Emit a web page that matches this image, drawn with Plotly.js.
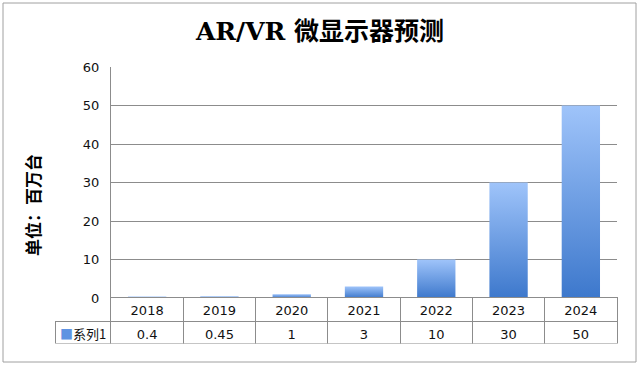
<!DOCTYPE html>
<html>
<head>
<meta charset="utf-8">
<script src="https://cdn.plot.ly/plotly-3.0.1.min.js"></script>
<style>
  html, body { margin: 0; padding: 0; background: #fff; }
  #chart { width: 640px; height: 365px; }
</style>
</head>
<body>
<div id="chart"></div>
<script>
// ---- data ----
const years = ['2018', '2019', '2020', '2021', '2022', '2023', '2024'];
const values = [0.4, 0.45, 1, 3, 10, 30, 50];
const valueLabels = ['0.4', '0.45', '1', '3', '10', '30', '50'];
const seriesName = '系列1';
const chartTitle = 'AR/VR 微显示器预测';
const yTitle = '单位：百万台';
const yTicks = [0, 10, 20, 30, 40, 50, 60];

const numFont = 'DejaVu Sans, Verdana, sans-serif';
const cjkBold = 'DejaVu Serif, Noto Sans CJK SC, serif';
const gridCol = '#8c8c8c';
const tableLine = '#8c8c8c';

const barTrace = {
  type: 'bar',
  x: years,
  y: values,
  name: seriesName,
  marker: { color: '#6d9fe6', line: { width: 0 } },
  hoverinfo: 'skip',
  showlegend: false
};

const headerLineColors = ['rgba(0,0,0,0)'].concat(years.map(() => tableLine));
const headerFillColors = ['rgba(0,0,0,0)'].concat(years.map(() => '#ffffff'));
const tableTrace = {
  type: 'table',
  domain: { x: [0, 1], y: [0, 0.168] },
  columnwidth: [56].concat(years.map(() => 72.3)),
  header: {
    values: [''].concat(years),
    height: 24,
    align: 'center',
    line: { color: headerLineColors, width: 1 },
    fill: { color: headerFillColors },
    font: { family: numFont, size: 13, color: '#111' }
  },
  cells: {
    values: [['']].concat(valueLabels.map(v => [v])),
    height: 22,
    align: 'center',
    line: { color: tableLine, width: 1 },
    fill: { color: '#ffffff' },
    font: { family: numFont, size: 13, color: '#111' }
  }
};

const L = 55, R = 23, T = 67, B = 21;
const W = 640, H = 365;
const pw = W - L - R, ph = H - T - B;
const px2x = p => (p - L) / pw;
const px2y = p => (H - B - p) / ph;

const layout = {
  width: W, height: H,
  margin: { l: L, r: R, t: T, b: B },
  paper_bgcolor: '#ffffff',
  plot_bgcolor: '#ffffff',
  title: {
    text: '<b>' + chartTitle + '</b>',
    x: 0.5, xref: 'container', xanchor: 'center',
    y: 1 - 31 / H, yref: 'container', yanchor: 'middle',
    font: { family: cjkBold, size: 25, color: '#000' }
  },
  bargap: 0.47,
  xaxis: {
    domain: [px2x(111), 1],
    type: 'category',
    showticklabels: false,
    ticks: '',
    showgrid: false,
    showline: false,
    zeroline: false,
    fixedrange: true
  },
  yaxis: {
    domain: [px2y(298), 1],
    range: [0, 60],
    tickvals: yTicks,
    ticktext: yTicks.map(String),
    ticks: '',
    ticklabelstandoff: 8,
    tickfont: { family: numFont, size: 13, color: '#111' },
    showgrid: true,
    gridcolor: gridCol,
    gridwidth: 1,
    showline: true,
    linecolor: gridCol,
    linewidth: 1,
    zeroline: false,
    fixedrange: true
  },
  annotations: [
    {
      text: '<b>' + yTitle + '</b>',
      xref: 'paper', yref: 'paper',
      x: px2x(22), y: px2y(205),
      textangle: -90,
      showarrow: false,
      font: { family: cjkBold, size: 17, color: '#000' }
    },
    {
      text: '<span style="color:#5f93e2">■</span>' + seriesName,
      xref: 'paper', yref: 'paper',
      x: px2x(83), y: px2y(333),
      xanchor: 'center', yanchor: 'middle',
      showarrow: false,
      font: { family: 'Noto Sans CJK SC, sans-serif', size: 13, color: '#111' }
    }
  ],
  shapes: [
    {
      type: 'rect', xref: 'paper', yref: 'paper',
      x0: px2x(3), x1: px2x(636), y0: px2y(362), y1: px2y(3),
      line: { color: '#a0a0a0', width: 1 },
      fillcolor: 'rgba(0,0,0,0)',
      layer: 'below'
    }
  ]
};

Plotly.newPlot('chart', [barTrace, tableTrace], layout, { staticPlot: true, displayModeBar: false }).then(gd => {
  // vertical gradient on each bar (light top, darker bottom)
  const svg = gd.querySelector('svg.main-svg');
  const ns = 'http://www.w3.org/2000/svg';
  let defs = svg.querySelector('defs');
  if (!defs) { defs = document.createElementNS(ns, 'defs'); svg.insertBefore(defs, svg.firstChild); }
  const grad = document.createElementNS(ns, 'linearGradient');
  grad.setAttribute('id', 'barGrad');
  grad.setAttribute('x1', '0'); grad.setAttribute('y1', '0');
  grad.setAttribute('x2', '0'); grad.setAttribute('y2', '1');
  [['0%', '#9fc4fa'], ['100%', '#3d78cc']].forEach(([o, c]) => {
    const s = document.createElementNS(ns, 'stop');
    s.setAttribute('offset', o); s.setAttribute('stop-color', c);
    grad.appendChild(s);
  });
  defs.appendChild(grad);
  gd.querySelectorAll('.barlayer .point path').forEach(p => { p.style.fill = 'url(#barGrad)'; });
});
</script>
</body>
</html>
